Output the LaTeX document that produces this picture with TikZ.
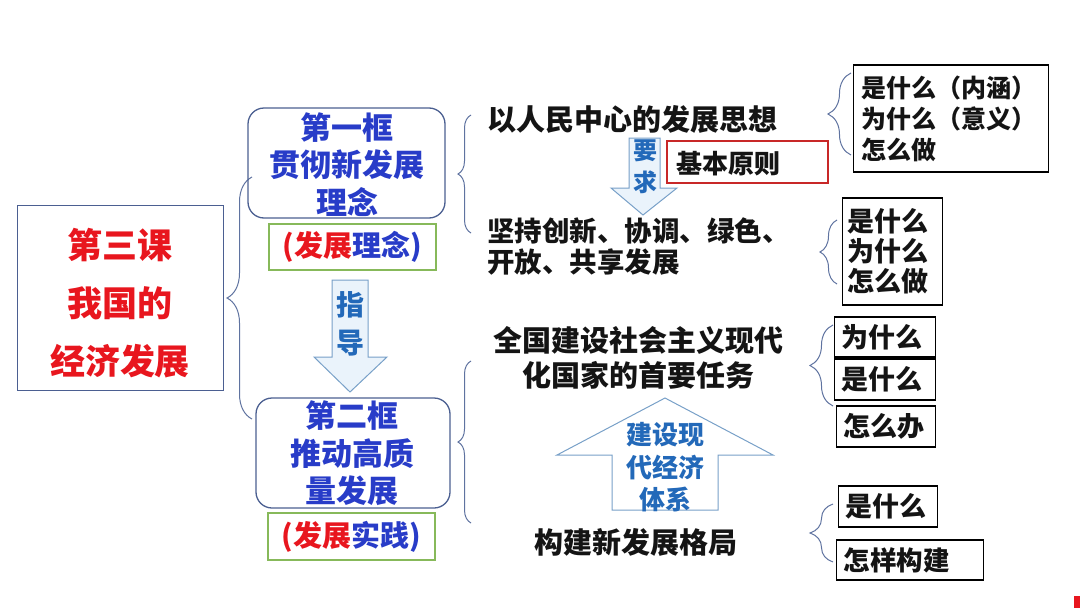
\documentclass[tikz,border=0pt]{standalone}
\usepackage{fontspec}
\setmainfont{Noto Sans CJK SC}
\usetikzlibrary{decorations.pathreplacing}
\definecolor{tblue}{RGB}{40,60,200}
\definecolor{tred}{RGB}{232,22,30}
\definecolor{tteal}{RGB}{35,105,185}
\definecolor{boxcol}{RGB}{75,95,145}
\definecolor{greencol}{RGB}{135,185,90}
\definecolor{redbox}{RGB}{200,40,40}
\definecolor{arrcol}{RGB}{120,160,200}
\definecolor{arrfill}{RGB}{234,243,251}
\definecolor{bracecol}{RGB}{95,115,160}
\definecolor{txt}{RGB}{20,20,20}
\newcommand{\fs}[2]{\fontsize{#1}{#2}\selectfont\bfseries}
\begin{document}
\begin{tikzpicture}[x=1pt,y=-1pt,
  lbl/.style={inner sep=0pt,text=txt},
  rbox/.style={draw=boxcol,line width=1.3pt,rounded corners=16pt,inner sep=0pt},
  gbox/.style={draw=greencol,line width=1.3pt,inner sep=0pt},
  kbox/.style={draw=black,line width=1.4pt,inner xsep=7pt,inner ysep=0pt,align=left,text=txt},
  arrowshape/.style={draw=arrcol,line width=1pt,fill=arrfill,line join=miter},
  brc/.style={draw=bracecol,line width=1pt,decorate,decoration={brace,amplitude=#1,aspect=0.5}}
]
\useasboundingbox (0,0) rectangle (1080,608);

% main box
\node[draw=boxcol,line width=1pt,minimum width=206pt,minimum height=185pt,inner sep=0pt] (main) at (120,297.5) {};
\node[lbl,text=tred,align=center,font=\fs{35}{58}] (maint) at (120,303) {第三课\\我国的\\经济发展};

% main brace
\coordinate (mb1) at (252,419);
\coordinate (mb2) at (252,177);
\draw[brc=25pt] (mb1) -- (mb2);

% box 1
\node[rbox,minimum width=197pt,minimum height=110pt] (b1) at (346.5,163) {};
\node[lbl,text=tblue,align=center,font=\fs{31}{37.5}] (b1t) at (347,164.5) {第一框\\贯彻新发展\\理念};
\node[gbox,minimum width=167pt,minimum height=46pt,font=\fs{29}{32}] (g1) at (352.5,247) {\textcolor{tred}{(发展}\textcolor{tblue}{理念)}};

% arrow 指导
\draw[arrowshape] (332,280) -- (368,280) -- (368,357) -- (387,357) -- (350,392) -- (314,357) -- (332,357) -- cycle;
\node[lbl,text=tteal,align=center,font=\fs{28}{38}] (zd) at (350,324) {指\\导};

% box 2
\node[rbox,minimum width=194pt,minimum height=110pt] (b2) at (353,453) {};
\node[lbl,text=tblue,align=center,font=\fs{31}{37.5}] (b2t) at (352,453.5) {第二框\\推动高质\\量发展};
\node[gbox,minimum width=167pt,minimum height=47pt,font=\fs{29}{32}] (g2) at (351.5,536.5) {\textcolor{tred}{(发展}\textcolor{tblue}{实践)}};

% upper middle brace
\draw[brc=13pt] (471,233) -- (471,115);
% lower middle brace
\draw[brc=13pt] (471,523) -- (471,361);

% upper texts
\node[lbl,anchor=west,font=\fs{29}{32}] (rm) at (487,119) {以人民中心的发展思想};
\draw[arrowshape] (629,138) -- (660,138) -- (660,188) -- (677,188) -- (643,215) -- (611,188) -- (629,188) -- cycle;
\node[lbl,text=tteal,align=center,font=\fs{24}{32}] (yq) at (645,167) {要\\求};
\node[draw=redbox,line width=1.4pt,minimum width=161pt,minimum height=42pt,inner sep=0pt] (jb) at (747.5,162) {};
\node[lbl,anchor=west,font=\fs{26}{30}] (jbt) at (676,164) {基本原则};
\node[lbl,anchor=west,align=left,font=\fs{27.5}{31}] (jc) at (487,247) {坚持创新、协调、绿色、\\开放、共享发展};

% right boxes top
\draw[brc=23pt] (851,155) -- (851,73);
\node[kbox,anchor=west,inner xsep=8pt,text width=179pt,minimum height=107pt,font=\fs{25}{31}] (q1) at (853,118.5) {是什么（内涵）\\为什么（意义）\\怎么做};
\draw[brc=17pt] (837,284) -- (837,220);
\node[kbox,anchor=west,inner xsep=5pt,text width=90pt,minimum height=107pt,font=\fs{27}{30}] (q2) at (842,251.5) {是什么\\为什么\\怎么做};

% lower texts
\node[lbl,align=center,font=\fs{29}{35}] (qg) at (638.5,357.5) {全国建设社会主义现代\\化国家的首要任务};
\draw[arrowshape,fill=white] (665,398) -- (773,455) -- (718,455) -- (718,510) -- (612,510) -- (612,455) -- (557,455) -- cycle;
\node[lbl,text=tteal,align=center,font=\fs{26}{32.5}] (js) at (665,467.5) {建设现\\代经济\\体系};
\node[lbl,font=\fs{29}{32}] (gj) at (635.5,542) {构建新发展格局};

% right boxes bottom
\draw[brc=23pt] (833,406) -- (833,325);
\node[kbox,anchor=west,text width=87pt,minimum height=40pt,font=\fs{27}{30}] (w1) at (834,337) {为什么};
\node[kbox,anchor=west,text width=87pt,minimum height=41pt,font=\fs{27}{30}] (w2) at (834,379.5) {是什么};
\node[kbox,anchor=west,text width=85pt,minimum height=41pt,font=\fs{27}{30}] (w3) at (836,426.5) {怎么办};
\draw[brc=23pt] (833,562) -- (833,504);
\node[kbox,anchor=west,text width=85pt,minimum height=41pt,font=\fs{27}{30}] (w4) at (838,506.5) {是什么};
\node[kbox,anchor=west,text width=133pt,minimum height=40pt,font=\fs{26.5}{30}] (w5) at (836,560) {怎样构建};

% slide marks
\fill[tred] (1074,596) rectangle (1080,608);
\end{tikzpicture}
\end{document}
